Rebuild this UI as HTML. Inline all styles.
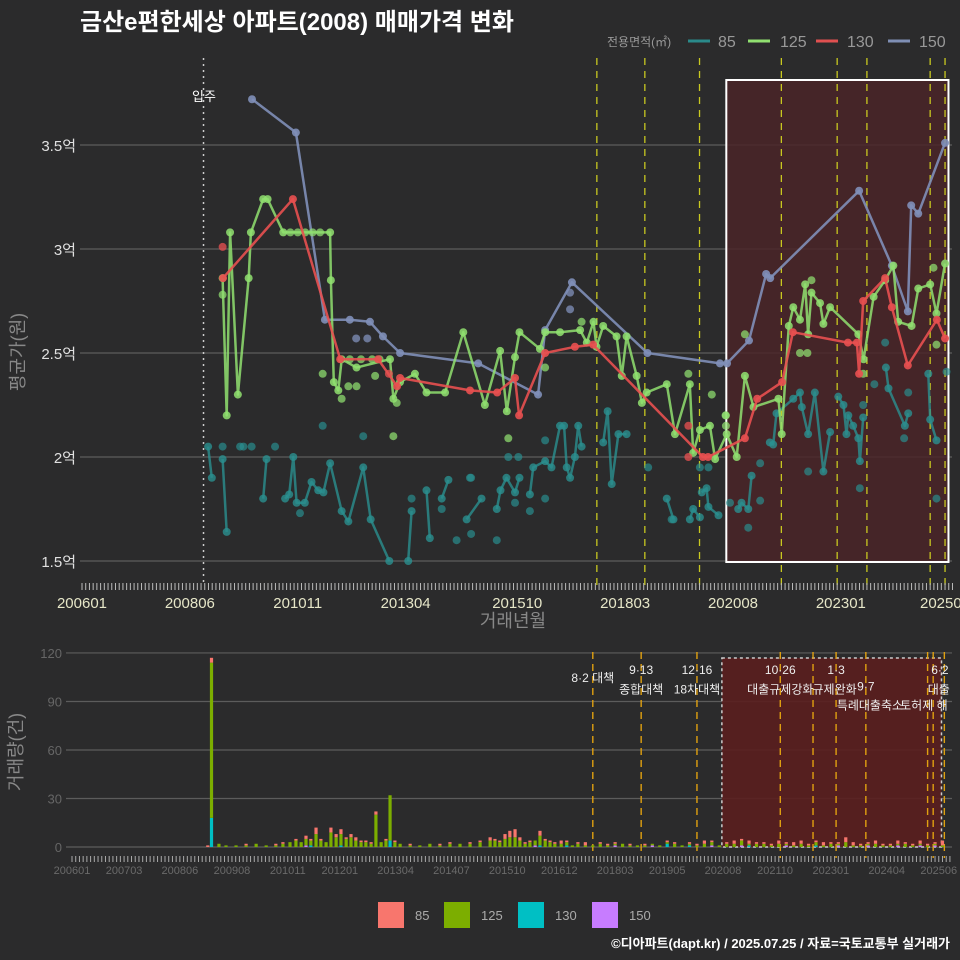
<!DOCTYPE html>
<html><head><meta charset="utf-8">
<style>
html,body{margin:0;padding:0;background:#2b2b2c;}
svg{display:block;font-family:"Liberation Sans","Noto Sans CJK KR",sans-serif;}
</style></head>
<body>
<svg id="chart" width="960" height="960" viewBox="0 0 960 960">
<rect x="0" y="0" width="960" height="960" fill="#2b2b2c"/>
<text x="80" y="30" fill="#ffffff" font-size="24" font-weight="bold">금산e편한세상 아파트(2008) 매매가격 변화</text>
<g>
<text x="607" y="46" fill="#999" font-size="12">전용면적(㎡)</text>
<line x1="688" y1="41" x2="710" y2="41" stroke="#2a8a8a" stroke-width="3"/>
<text x="718" y="47" fill="#999" font-size="16">85</text>
<line x1="748" y1="41" x2="770" y2="41" stroke="#90e070" stroke-width="3"/>
<text x="780" y="47" fill="#999" font-size="16">125</text>
<line x1="816" y1="41" x2="838" y2="41" stroke="#e05050" stroke-width="3"/>
<text x="847" y="47" fill="#999" font-size="16">130</text>
<line x1="888" y1="41" x2="910" y2="41" stroke="#7f8fb5" stroke-width="3"/>
<text x="919" y="47" fill="#999" font-size="16">150</text>
</g>
<g id="topg"></g>
<g id="botg"></g>
<text transform="translate(24,352) rotate(-90)" text-anchor="middle" fill="#888" font-size="18">평균가(원)</text>
<text x="513" y="627" text-anchor="middle" fill="#888" font-size="18">거래년월</text>
<text transform="translate(22,752) rotate(-90)" text-anchor="middle" fill="#888" font-size="18">거래량(건)</text>
<g>
<rect x="378" y="902" width="26" height="26" fill="#f8766d"/>
<text x="415" y="920" fill="#aaa" font-size="13">85</text>
<rect x="444" y="902" width="26" height="26" fill="#7cae00"/>
<text x="481" y="920" fill="#aaa" font-size="13">125</text>
<rect x="518" y="902" width="26" height="26" fill="#00bfc4"/>
<text x="555" y="920" fill="#aaa" font-size="13">130</text>
<rect x="592" y="902" width="26" height="26" fill="#c77cff"/>
<text x="629" y="920" fill="#aaa" font-size="13">150</text>
</g>
<text x="950" y="948" text-anchor="end" fill="#fff" font-size="13" font-weight="bold">©디아파트(dapt.kr) / 2025.07.25 / 자료=국토교통부 실거래가</text>
</svg>
<script>
// ---- data ----
const topTickMonths=[0,29,58,87,117,146,175,204,232];
const topTickLabels=["200601","200806","201011","201304","201510","201803","202008","202301","202505"];
const botTickMonths=[0,14,29,43,58,72,87,102,117,131,146,160,175,189,204,219,233];
const botTickLabels=["200601","200703","200806","200908","201011","201201","201304","201407","201510","201612","201803","201905","202008","202110","202301","202404","202506"];
const priceTicks=[1.5,2,2.5,3,3.5];
const priceTickLabels=["1.5억","2억","2.5억","3억","3.5억"];
const volTicks=[0,30,60,90,120];
const policyMonthsTop=[138.4,151.3,166,188,203,211,228,232];
const policyMonthsBot=[140,153,168,190.4,199.2,205.4,213.4,230,231.5,234.5];
const shadeStartTop=173.2, shadeStartBot=174.7, shadeEnd=234;
const moveInMonth=32.8;

const s150m=[45.7,57.5,65.3,72,77.4,80.9,85.5,106.5,122.6,124.5,131.7,152,171.5,173.4,179.3,183.9,185,208.9,217.7,222,222.9,224.8,232];
const s150v=[3.72,3.56,2.66,2.66,2.65,2.58,2.50,2.45,2.30,2.61,2.84,2.50,2.45,2.45,2.56,2.88,2.86,3.28,2.92,2.70,3.21,3.17,3.51];
const s150xm=[73.7,76.7,131.2,131.2];
const s150xv=[2.57,2.57,2.79,2.71];

const s130m=[37.9,56.7,69.4,79.6,84.7,85.5,104.3,111.6,116.4,117.5,124.5,132.5,137.4,166.9,168.3,178.2,181.5,188.2,191.1,205.9,208.3,208.9,210,215.9,217.7,222,229.8,232];
const s130v=[2.86,3.24,2.47,2.47,2.34,2.38,2.32,2.31,2.38,2.20,2.50,2.53,2.54,2.00,2.00,2.09,2.28,2.36,2.60,2.55,2.55,2.40,2.75,2.86,2.72,2.44,2.66,2.57];
const s130xm=[37.8,163,163,82.5];
const s130xv=[3.01,2.15,2.00,2.40];

const s125m=[37.8,38.9,39.8,41.9,44.8,45.4,48.7,49.9,54.1,66.7,66.9,67.7,68.9,69.8,73.8,82.8,83.7,85.5,89.5,92.6,97.6,102.5,108.3,112.4,114.2,116.4,117.6,123.1,124.5,128.5,133.9,135.7,137.5,138.3,140.1,143.7,145.1,146.4,149.1,150.5,151.8,157.2,159.4,163.4,164.3,166.1,168.8,170.2,173.3,176,178.2,180.5,187.2,188.1,190,191.2,193,194.4,195.2,196.1,198.4,199.3,201.1,208.7,210.1,212.8,215.9,218.1,219.4,223,224.8,228,229.7,232];
const s125v=[2.86,2.20,3.08,2.30,2.86,3.08,3.24,3.24,3.08,3.08,2.85,2.36,2.32,2.47,2.43,2.47,2.28,2.36,2.40,2.31,2.31,2.60,2.25,2.51,2.22,2.48,2.60,2.52,2.60,2.60,2.61,2.55,2.65,2.53,2.63,2.58,2.39,2.58,2.39,2.26,2.31,2.35,2.11,2.35,2.02,2.13,2.15,1.99,2.11,2.00,2.39,2.24,2.28,2.11,2.63,2.72,2.66,2.83,2.59,2.79,2.74,2.64,2.72,2.59,2.47,2.77,2.85,2.92,2.65,2.63,2.81,2.83,2.69,2.93];
const s125xm=[37.8,56,58,60,62,64,72,75,78,80,64.7,69.8,71.6,73.8,78.8,83.7,84.6,114.6,124.5,134.3,163,169.3,173,173.1,173.1,178.2,193,195,196.1,228.9,229.7,210];
const s125xv=[2.78,3.08,3.08,3.08,3.08,3.08,2.47,2.47,2.47,2.47,2.40,2.28,2.34,2.34,2.39,2.10,2.26,2.09,2.43,2.65,2.40,2.30,2.20,2.20,2.15,2.59,2.50,2.50,2.85,2.91,2.54,2.40];

const s85m=[33.9,34.9,0,37.8,38.9,0,48.7,49.6,0,54.6,55.7,56.8,57.7,59.9,61.7,63.5,64.9,66.7,69.8,71.6,75.6,77.6,82.6,0,87.7,88.6,0,92.6,93.5,0,96.7,98.5,0,103.4,107.4,0,111.5,112.5,114.1,116.4,117.6,0,120.4,121.3,124.5,126.2,128.5,129.6,130.3,131.2,132.5,133.4,134.3,0,140.1,141.3,142.4,144.2,146.4,0,157.2,159,0,163.4,164.3,166.1,0,166.6,167.9,168.4,171.1,0,176.4,177.3,179.1,180,0,184.9,185.8,186.7,191.2,193,193.5,195.2,197,199.3,201.1,0,203.3,204.7,205.5,206,207.3,208.7,209.1,210,0,216.1,216.8,221.2,222.1,0,227.5,228,229.7];
const s85v=[2.05,1.90,null,1.99,1.64,null,1.80,1.99,null,1.80,1.82,2.00,1.78,1.78,1.88,1.84,1.83,1.97,1.74,1.69,1.95,1.70,1.50,null,1.50,1.74,null,1.84,1.61,null,1.80,1.89,null,1.70,1.80,null,1.75,1.84,1.90,1.83,1.90,null,1.82,1.95,1.98,1.95,2.15,2.15,1.95,1.90,2.00,2.15,2.05,null,2.07,2.22,1.87,2.11,2.11,null,1.80,1.70,null,1.70,1.75,1.71,null,1.83,1.85,1.76,1.72,null,1.75,1.78,1.75,1.91,null,2.07,2.06,2.21,2.28,2.31,2.24,2.11,2.31,1.93,2.12,null,2.29,2.25,2.11,2.20,2.15,2.09,1.98,2.19,null,2.43,2.33,2.15,2.21,null,2.40,2.18,2.08];
const s85xm=[37.8,42.5,43.4,45.6,51.9,64.7,75.6,58.6,88.6,96.7,100.7,104.3,104.6,104.6,111.5,114.6,117.3,116.4,120.4,124.5,124.5,152.2,166.1,168.4,158.5,182.3,182.3,179.1,174.2,195.2,209.1,213,215.9,222.1,221,229.7,232.4,210];
const s85xv=[2.05,2.05,2.05,2.05,2.05,2.15,2.10,1.73,1.80,1.75,1.60,1.90,1.90,1.63,1.60,2.00,2.00,1.78,1.74,2.08,1.80,1.95,1.95,1.95,1.70,1.97,1.79,1.66,1.78,1.93,1.85,2.35,2.55,2.31,2.09,1.80,2.41,2.25];

// monthly transaction counts
const barMonths=[36.5,37.5,39.5,41.4,44.1,46.8,49.5,52.2,54.8,56.7,58.6,60.2,61.6,62.9,64.2,65.6,66.9,68.3,69.6,71,72.3,73.7,75,76.3,77.7,79,80.4,81.7,83.1,84.4,85.5,86.8,88.2,90.9,93.5,96.2,98.9,101.6,104.3,107,109.7,112.4,113.7,115,116.4,117.7,119.1,120.4,121.8,123.1,124.5,125.8,127.2,128.5,129.8,131.5,133,134.5,136,138,140,142,144,146,148,150,152,154,156,158,160,162,164,166,168,170,172,174,176,178,180,182,184,186,188,190,192,194,196,198,200,202,204,206,208,210,212,214,216,218,220,222,224,226,228,230,232,234];
const cnt85=[1,3,0,0,0,1,0,0,1,1,0,1,0,2,1,4,1,0,3,2,3,1,2,2,1,1,1,2,0,1,0,1,0,1,0,0,1,1,0,1,1,2,1,1,3,4,5,2,1,1,0,3,1,1,1,2,1,0,1,2,0,1,1,1,0,1,0,1,0,0,1,1,0,1,1,2,1,0,1,2,1,2,1,1,1,2,1,2,2,1,1,2,1,1,3,2,1,1,2,1,1,2,1,1,2,1,1,3];
const cnt125=[0,96,2,1,1,1,2,1,1,2,3,4,3,4,3,8,4,3,9,6,7,5,6,4,3,3,2,20,3,4,28,3,2,1,1,2,1,2,2,2,3,4,4,3,5,6,6,4,2,3,3,6,4,3,2,2,2,1,2,1,1,2,1,1,2,1,1,1,1,1,1,2,1,1,1,2,2,1,2,2,3,1,2,2,1,2,1,1,2,1,2,1,2,1,3,1,1,1,2,1,1,1,2,1,1,1,1,1];
const cnt130=[0,18,0,0,0,0,0,0,0,0,0,0,0,0,1,0,0,0,0,0,1,0,0,0,0,0,0,0,0,0,4,0,0,0,0,0,0,0,0,0,0,0,0,0,0,0,0,0,0,0,0,1,0,0,0,0,1,0,0,0,0,0,0,0,0,0,0,0,0,0,2,0,0,1,0,0,0,0,0,0,0,1,0,0,0,0,0,0,0,0,1,0,0,0,0,0,0,0,0,0,0,0,0,0,0,0,0,0];
const cnt150=[0,0,0,0,0,0,0,0,0,0,0,0,0,1,0,0,0,0,0,0,0,0,0,0,0,0,0,0,0,0,0,0,0,0,0,0,0,0,0,0,0,0,0,0,0,0,0,0,0,0,1,0,0,0,0,0,0,0,0,0,0,0,0,1,0,0,0,0,1,0,0,0,0,0,0,0,1,0,0,0,1,0,0,0,0,0,1,0,0,0,0,0,0,1,0,0,0,1,0,0,0,1,0,0,1,0,1,0];

// ---- axes ----
const xT=m=>82+3.72*m;
const yT=v=>561-(v-1.5)*208;
const xB=m=>72+3.72*m;
const yB=c=>847-c*1.617;
const NS="http://www.w3.org/2000/svg";
function mk(tag,attrs,parent){const e=document.createElementNS(NS,tag);for(const k in attrs)e.setAttribute(k,attrs[k]);parent.appendChild(e);return e;}
const topG=document.getElementById('topg'), botG=document.getElementById('botg');

priceTicks.forEach((v,i)=>{
  const l=mk('line',{x1:80,x2:952,y1:yT(v),y2:yT(v),stroke:'#5c5c5c','stroke-width':1.2},topG);
  
  
  const t=mk('text',{x:76,y:yT(v)+6,'text-anchor':'end',fill:'#e0e0e0','font-size':15},topG);
  t.textContent=priceTickLabels[i];
  
  
});
const sh=mk('rect',{x:xT(shadeStartTop),y:80,width:xT(shadeEnd)-xT(shadeStartTop)-4,height:482,fill:'#4a2428','fill-opacity':0.85,stroke:'#ffffff','stroke-width':2},topG);


const mi=mk('line',{x1:xT(moveInMonth)-0.5,x2:xT(moveInMonth)-0.5,y1:58,y2:585,stroke:'#cccccc','stroke-width':1.5,'stroke-dasharray':'2,4'},topG);


const mt=mk('text',{x:xT(moveInMonth),y:101,'text-anchor':'middle',fill:'#fff','font-size':13},topG);
mt.textContent='입주';


policyMonthsTop.forEach(m=>{
  const l=mk('line',{x1:xT(m),x2:xT(m),y1:58,y2:588,stroke:'#c8c820','stroke-width':1.3,'stroke-dasharray':'7,6'},topG);
  
  
});
for(let m=0;m<=234;m++){
  const l=mk('line',{x1:xT(m),x2:xT(m),y1:583,y2:590,stroke:'#bbbbbb','stroke-width':1},topG);
  
  
}
topTickMonths.forEach((m,i)=>{
  const t=mk('text',{x:xT(m),y:608,'text-anchor':'middle',fill:'#e6e6c8','font-size':15},topG);
  t.textContent=topTickLabels[i];
  
  
});
function drawSeries(ms,vs,xm,xv,color,name,op){
  let d='',pen=false;
  ms.forEach((m,i)=>{const v=vs[i];if(v===null||v===undefined){pen=false;return;}d+=(pen?'L':'M')+xT(m).toFixed(1)+','+yT(v).toFixed(1);pen=true;});
  const p=mk('path',{d:d,fill:'none',stroke:color,'stroke-width':2.5,'stroke-opacity':op,'stroke-linejoin':'round'},topG);
  
  
  ms.forEach((m,i)=>{if(vs[i]===null||vs[i]===undefined)return;
    const c=mk('circle',{cx:xT(m),cy:yT(vs[i]),r:4,fill:color,'fill-opacity':op},topG);
    
    
  });
  xm.forEach((m,i)=>{
    const c=mk('circle',{cx:xT(m),cy:yT(xv[i]),r:4,fill:color,'fill-opacity':op*0.85},topG);
    
    
  });
}
drawSeries(s85m,s85v,s85xm,s85xv,'#2a9090','85',0.8);
drawSeries(s150m,s150v,s150xm,s150xv,'#7f8fb8','150',0.9);
drawSeries(s125m,s125v,s125xm,s125xv,'#90e070','125',0.85);
drawSeries(s130m,s130v,s130xm,s130xv,'#e85050','130',0.9);

// bottom panel
volTicks.forEach(c=>{
  const l=mk('line',{x1:66,x2:952,y1:yB(c),y2:yB(c),stroke:'#5c5c5c','stroke-width':1.2},botG);
  
  
  const t=mk('text',{x:62,y:yB(c)+5,'text-anchor':'end',fill:'#666','font-size':13},botG);
  t.textContent=c;
  
  
});
const sb=mk('rect',{x:xB(shadeStartBot),y:658,width:xB(shadeEnd)-xB(shadeStartBot)-1,height:189,fill:'#5a1e1e','fill-opacity':0.9,stroke:'#cccccc','stroke-width':1.5,'stroke-dasharray':'3,3'},botG);


policyMonthsBot.forEach(m=>{
  const l=mk('line',{x1:xB(m),x2:xB(m),y1:652,y2:858,stroke:'#e0a010','stroke-width':1.4,'stroke-dasharray':'7,5'},botG);
  
  
});
const stacks=[[cnt150,'#c77cff','150'],[cnt130,'#00bfc4','130'],[cnt125,'#7cae00','125'],[cnt85,'#f8766d','85']];
barMonths.forEach((m,i)=>{
  let base=0;
  stacks.forEach(([arr,col,nm])=>{
    const c=arr[i]; if(!c)return;
    const r=mk('rect',{x:xB(m)-1.6,y:yB(base+c),width:3.2,height:yB(base)-yB(base+c),fill:col},botG);
    
    
    base+=c;
  });
});
for(let m=0;m<=236;m++){
  const l=mk('line',{x1:xB(m),x2:xB(m),y1:856,y2:862,stroke:'#aaaaaa','stroke-width':1},botG);
  
  
}
botTickMonths.forEach((m,i)=>{
  const t=mk('text',{x:xB(m),y:874,'text-anchor':'middle',fill:'#6a6a6a','font-size':11},botG);
  t.textContent=botTickLabels[i];
  
  
});
const annText=["8·2 대책","9·13","종합대책","12·16","18차대책","10·26","대출규제강화","1·3","규제완화","9·7","특례대출축소","토허제 해","6·2","대출"];
const annMonth=[140,153,153,168,168,190.4,190.4,205.4,205,213.4,214.5,229,233.3,233];
const annVal=[105,110,98,110,98,110,98,110,98,100,88,88,110,98];
annText.forEach((s,i)=>{
  const t=mk('text',{x:xB(annMonth[i]),y:yB(annVal[i])+5,'text-anchor':'middle',fill:'#eeeeee','font-size':12},botG);
  t.textContent=s;
  
  
});
</script>
</body></html>
